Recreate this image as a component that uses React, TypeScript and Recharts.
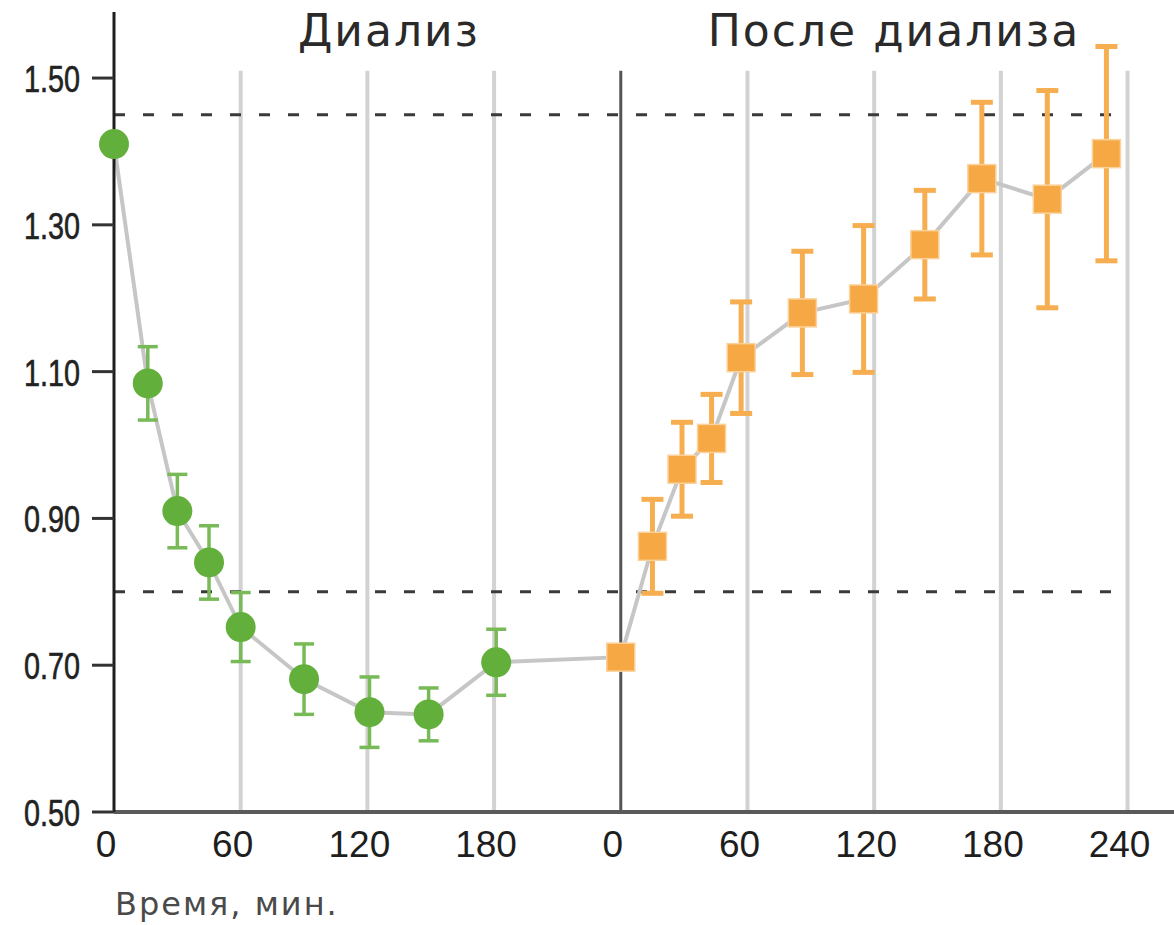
import React from "react";
import {
  ComposedChart,
  Line,
  Scatter,
  XAxis,
  YAxis,
  ErrorBar,
  ReferenceLine,
} from "recharts";

// minutes from the start of dialysis
const dialysisMinutes = [0, 16, 30, 45, 60, 90, 121, 149, 181];
const dialysisValues = [1.41, 1.084, 0.91, 0.84, 0.752, 0.681, 0.636, 0.633, 0.704];
const dialysisErrors = [0, 0.05, 0.05, 0.05, 0.047, 0.048, 0.048, 0.036, 0.045];

// minutes after dialysis ended
const afterMinutes = [0, 15, 29, 43, 57, 86, 115, 144, 171, 202, 230];
const afterValues = [0.711, 0.862, 0.967, 1.009, 1.119, 1.18, 1.199, 1.273, 1.363, 1.335, 1.397];
const afterErrors = [0, 0.064, 0.064, 0.06, 0.076, 0.084, 0.1, 0.074, 0.104, 0.148, 0.146];

const xTicks = [0, 60, 120, 180, 240, 300, 360, 420, 480];
const yTicks = [0.5, 0.7, 0.9, 1.1, 1.3, 1.5];
const gridMinutes = [60, 120, 180, 300, 360, 420, 480];
const limitLines = [1.45, 0.8];
const dividerMinute = 240;
const gridTop = 1.51;

const dialysisPoints = dialysisMinutes.map((t, i) => ({
  t,
  v: dialysisValues[i],
  err: dialysisErrors[i],
}));
const afterPoints = afterMinutes.map((t, i) => ({
  t: dividerMinute + t,
  v: afterValues[i],
  err: afterErrors[i],
}));
const allPoints = [...dialysisPoints, ...afterPoints];

const XTick = (props: any) => {
  const { x, y, payload } = props;
  const m = payload.value < dividerMinute ? payload.value : payload.value - dividerMinute;
  return (
    <text
      x={x - 8}
      y={y}
      dy={45}
      textAnchor="middle"
      fontFamily="Liberation Sans, Arial, sans-serif"
      fontSize={37}
      fill="#1e1e1e"
    >
      {m}
    </text>
  );
};

// narrow, condensed labels on the value axis
const YTick = (props: any) => {
  const { x, y, payload } = props;
  return (
    <text
      x={x}
      y={y}
      dy={14}
      textAnchor="end"
      fontFamily="Liberation Sans, Arial, sans-serif"
      fontSize={36}
      fill="#222"
      stroke="#222"
      strokeWidth={0.6}
      textLength={56}
      lengthAdjust="spacingAndGlyphs"
    >
      {payload.value.toFixed(2)}
    </text>
  );
};

const GreenDot = (props: any) => (
  <circle cx={props.cx} cy={props.cy} r={15} fill="#63af3b" />
);

const OrangeSquare = (props: any) => (
  <rect
    x={props.cx - 14}
    y={props.cy - 14}
    width={28}
    height={28}
    fill="#f5a843"
    stroke="#fbd29c"
    strokeWidth={1.5}
  />
);

const App = () => {
  return (
    <div
      style={{
        position: "absolute",
        left: 0,
        top: 0,
        width: 1174,
        height: 925,
        background: "#fff",
      }}
    >
      <ComposedChart
        width={1174}
        height={925}
        margin={{ top: 12, right: 0, bottom: 73, left: 0 }}
      >
        <XAxis
          type="number"
          dataKey="t"
          domain={[0, 502]}
          ticks={xTicks}
          height={40}
          axisLine={{ stroke: "#5a5a5a", strokeWidth: 4 }}
          tickLine={false}
          tickSize={0}
          tickMargin={0}
          tick={<XTick />}
        />
        <YAxis
          type="number"
          dataKey="v"
          domain={[0.5, 1.59]}
          ticks={yTicks}
          width={114}
          axisLine={{ stroke: "#1e1e1e", strokeWidth: 3 }}
          tickLine={{ stroke: "#333", strokeWidth: 3 }}
          tickSize={22}
          tickMargin={12}
          tick={<YTick />}
        />
        {gridMinutes.map((m) => (
          <ReferenceLine
            key={m}
            segment={[
              { x: m, y: 0.5 },
              { x: m, y: gridTop },
            ]}
            stroke="#d2d2d2"
            strokeWidth={4}
          />
        ))}
        <ReferenceLine
          segment={[
            { x: dividerMinute, y: 0.5 },
            { x: dividerMinute, y: gridTop },
          ]}
          stroke="#555"
          strokeWidth={3}
        />
        {limitLines.map((v) => (
          <ReferenceLine
            key={v}
            segment={[
              { x: 0, y: v },
              { x: 480, y: v },
            ]}
            stroke="#3a3a3a"
            strokeWidth={3}
            strokeDasharray="11 18"
          />
        ))}
        <Line
          data={allPoints}
          dataKey="v"
          stroke="#c6c6c6"
          strokeWidth={4}
          dot={false}
          activeDot={false}
          isAnimationActive={false}
        />
        <Scatter
          data={dialysisPoints}
          dataKey="v"
          shape={<GreenDot />}
          isAnimationActive={false}
        >
          <ErrorBar
            dataKey="err"
            direction="y"
            width={10}
            stroke="#78ba57"
            strokeWidth={3.5}
          />
        </Scatter>
        <Scatter
          data={afterPoints}
          dataKey="v"
          shape={<OrangeSquare />}
          isAnimationActive={false}
        >
          <ErrorBar
            dataKey="err"
            direction="y"
            width={11}
            stroke="#f6ae50"
            strokeWidth={5}
          />
        </Scatter>
      </ComposedChart>
      <svg
        width={1174}
        height={925}
        style={{ position: "absolute", left: 0, top: 0, pointerEvents: "none" }}
      >
        <g fontFamily="DejaVu Sans, sans-serif" fontSize={44} fill="#2a2a2a" letterSpacing={2}>
          <text x={389} y={46} textAnchor="middle">
            Диализ
          </text>
          <text x={894} y={46} textAnchor="middle">
            После диализа
          </text>
        </g>
        <text
          x={115}
          y={915}
          fontFamily="DejaVu Sans, sans-serif"
          fontSize={32}
          fill="#4a4a4a"
          letterSpacing={2}
        >
          Время, мин.
        </text>
      </svg>
    </div>
  );
};

export default App;
